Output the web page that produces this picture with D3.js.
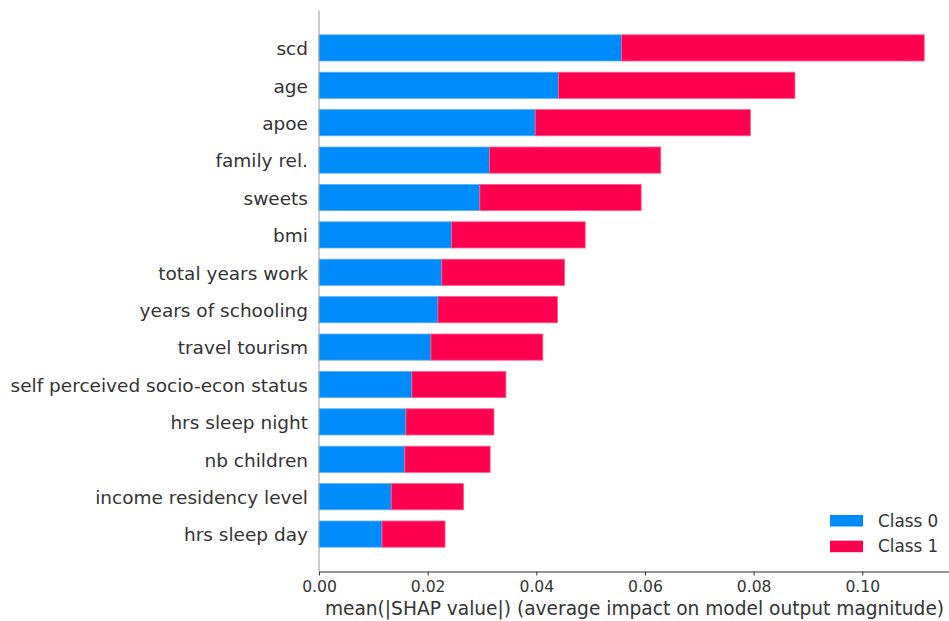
<!DOCTYPE html>
<html>
<head>
<meta charset="utf-8">
<script src="https://cdn.jsdelivr.net/npm/d3@7/dist/d3.min.js"></script>
<style>
  html, body { margin: 0; padding: 0; background: #fff; }
  svg { display: block; font-family: "DejaVu Sans", sans-serif; }
</style>
</head>
<body>
<svg id="chart" width="949" height="621"></svg>
<script>
// Features, ordered from most to least important (top to bottom)
const features = [
  "scd", "age", "apoe", "family rel.", "sweets", "bmi", "total years work",
  "years of schooling", "travel tourism", "self perceived socio-econ status",
  "hrs sleep night", "nb children", "income residency level", "hrs sleep day"
];
// mean(|SHAP value|) per feature for each class
const class0 = [0.0557, 0.0441, 0.0398, 0.0314, 0.0296, 0.0244, 0.0226,
                0.0219, 0.0206, 0.0171, 0.0160, 0.0158, 0.0133, 0.0116];
const class1 = [0.0557, 0.0435, 0.0396, 0.0315, 0.0297, 0.0246, 0.0226,
                0.0220, 0.0206, 0.0173, 0.0162, 0.0157, 0.0133, 0.0116];
const classNames = ["Class 0", "Class 1"];
const classColors = ["#008bfb", "#ff0051"];
const classEdges = ["#5ab0fc", "#ff5c8c"];
const xTicks = [0, 0.02, 0.04, 0.06, 0.08, 0.10];
const xLabel = "mean(|SHAP value|) (average impact on model output magnitude)";

const svg = d3.select("#chart");
const plotLeft = 319, plotRight = 949, plotTop = 10.5, plotBottom = 571.5;

const x = d3.scaleLinear().domain([0, 0.11596]).range([plotLeft, plotRight]);
const y = d3.scaleLinear().domain([-1, features.length]).range([plotTop, plotBottom]);
const barH = (y(0.35) - y(-0.35));

// stacked layers: class 0 first, then class 1
const rows = features.map((f, i) => ({ f, i, v: [class0[i], class1[i]] }));
const layers = classNames.map((name, k) => rows.map(r => {
  const x0 = k === 0 ? 0 : r.v[0];
  return { i: r.i, x0, x1: x0 + r.v[k] };
}));

layers.forEach((layer, k) => {
  svg.append("g").selectAll("rect").data(layer).join("rect")
    .attr("x", d => x(d.x0))
    .attr("y", d => y(d.i) - barH / 2)
    .attr("width", d => x(d.x1) - x(d.x0))
    .attr("height", barH)
    .attr("fill", classColors[k])
    .attr("stroke", classEdges[k])
    .attr("stroke-width", 0.8);
});

// left spine
svg.append("line")
  .attr("x1", plotLeft).attr("x2", plotLeft)
  .attr("y1", plotTop).attr("y2", plotBottom)
  .attr("stroke", "#9a9a9a").attr("stroke-width", 1);

// feature labels
svg.append("g").selectAll("text").data(features).join("text")
  .attr("x", 308)
  .attr("y", (d, i) => y(i) + 0.8)
  .attr("dy", "0.35em")
  .attr("text-anchor", "end")
  .attr("font-size", "18.5px")
  .attr("fill", "#333333")
  .text(d => d);

// x axis
const xAxis = d3.axisBottom(x)
  .tickValues(xTicks)
  .tickFormat(d3.format(".2f"))
  .tickSizeInner(4)
  .tickSizeOuter(0)
  .tickPadding(5);
const gx = svg.append("g")
  .attr("transform", `translate(0,${plotBottom})`)
  .call(xAxis);
gx.select(".domain").attr("stroke", "#333333");
gx.selectAll(".tick line").attr("stroke", "#333333");
gx.selectAll(".tick text")
  .attr("fill", "#333333")
  .attr("font-size", "15.6px")
  .attr("font-family", "DejaVu Sans, sans-serif");

svg.append("text")
  .attr("x", 634.5)
  .attr("y", 615)
  .attr("text-anchor", "middle")
  .attr("font-size", "18.6px")
  .attr("fill", "#333333")
  .text(xLabel);

// legend
const legend = svg.append("g").attr("transform", "translate(830,515)");
classNames.forEach((name, k) => {
  const g = legend.append("g").attr("transform", `translate(0,${k * 25.7})`);
  g.append("rect").attr("width", 33).attr("height", 11.5)
    .attr("fill", classColors[k]);
  g.append("text").attr("x", 48).attr("y", 5.75).attr("dy", "0.35em")
    .attr("font-size", "16.8px").attr("fill", "#333333").text(name);
});
</script>
</body>
</html>
